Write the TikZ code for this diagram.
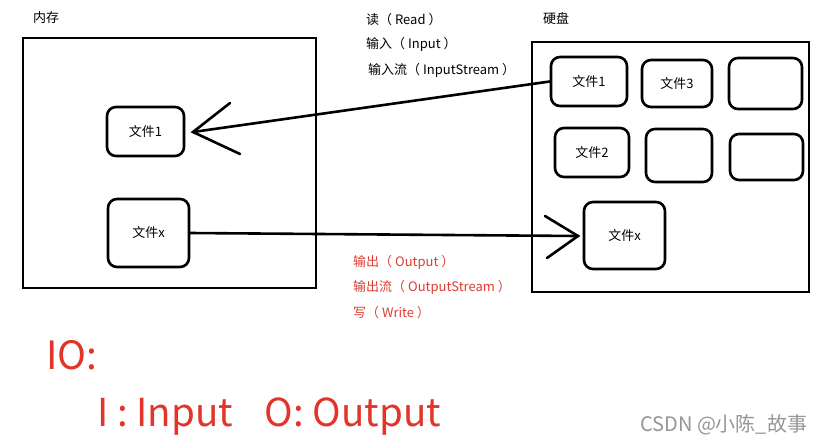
\documentclass[tikz,border=0pt]{standalone}
\usepackage{fontspec}
\newfontfamily\cjk{Noto Sans CJK SC}
\definecolor{iored}{RGB}{226,52,40}
\definecolor{lblred}{RGB}{222,60,50}
\definecolor{wmgrey}{RGB}{150,150,150}
\tikzset{
  frame/.style={draw=black, line width=2.6pt},
  fbox/.style={draw=black, line width=2.6pt, rounded corners=9pt, inner sep=0pt, font=\cjk\fontsize{13}{15}\selectfont},
  conn/.style={draw=black, line width=2.6pt, line cap=round},
  lbl/.style={anchor=west, inner sep=0pt, font=\cjk\fontsize{13}{15}\selectfont},
  redlbl/.style={lbl, text=lblred},
}
\begin{document}
\begin{tikzpicture}[x=1pt, y=-1pt]
\useasboundingbox (0,0) rectangle (826,442);
\fill[white] (0,0) rectangle (826,442);

% memory
\node[lbl] (memlabel) at (33,18) {内存};
\node[frame, minimum width=293pt, minimum height=250pt, inner sep=0pt] (mem) at (169.5,163) {};
\node[fbox, minimum width=77pt, minimum height=49pt] (m1) at (145.5,131.5) {文件1};
\node[fbox, minimum width=81pt, minimum height=68pt] (mx) at (148.5,233) {文件x};

% disk
\node[lbl] (disklabel) at (543,19) {硬盘};
\node[frame, minimum width=277pt, minimum height=250pt, inner sep=0pt] (disk) at (670.5,167) {};
\node[fbox, minimum width=76pt, minimum height=49pt] (d1) at (589,81.5) {文件1};
\node[fbox, minimum width=70pt, minimum height=47pt] (d3) at (677,83.5) {文件3};
\node[fbox, minimum width=73pt, minimum height=51pt] (da) at (765.5,83.5) {};
\node[fbox, minimum width=74pt, minimum height=49pt] (d2) at (592,152.5) {文件2};
\node[fbox, minimum width=66pt, minimum height=53pt] (db) at (679,155.5) {};
\node[fbox, minimum width=73pt, minimum height=46pt] (dc) at (766.5,157) {};
\node[fbox, minimum width=81pt, minimum height=67pt] (dx) at (624.5,235.5) {文件x};

% read arrow
\coordinate (rtip) at (193,132);
\coordinate (rb1) at (230,103);
\coordinate (rb2) at (240,154);
\draw[conn] (d1.west) -- (rtip);
\draw[conn] (rb1) -- (rtip) -- (rb2);

% write arrow
\coordinate (wtip) at (578,236);
\coordinate (wb1) at (545,216);
\coordinate (wb2) at (547,258);
\draw[conn] (mx.east) -- (wtip);
\draw[conn] (wb1) -- (wtip) -- (wb2);

% labels
\node[lbl] (t1) at (366,20) {读（ Read ）};
\node[lbl] (t2) at (366,44) {输入（ Input ）};
\node[lbl] (t3) at (368,70) {输入流（ InputStream ）};
\node[redlbl] (t4) at (353,262) {输出（ Output ）};
\node[redlbl] (t5) at (353,287) {输出流（ OutputStream ）};
\node[redlbl] (t6) at (353,313) {写（ Write ）};

\node[anchor=west, inner sep=0pt, text=iored, font=\cjk\fontsize{39}{44}\selectfont] (io) at (46,355) {IO:};
\node[anchor=west, inner sep=0pt, text=iored, font=\cjk\fontsize{38.5}{44}\selectfont] (iodef) at (97,417) {I : Input\hspace{32pt}O: Output};
\node[anchor=west, inner sep=0pt, text=wmgrey, font=\cjk\fontsize{20}{23}\selectfont] (wm) at (640,425) {CSDN @小陈\_故事};
\end{tikzpicture}
\end{document}
